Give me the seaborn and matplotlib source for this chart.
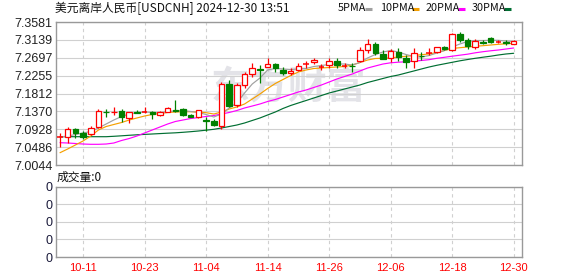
import matplotlib
matplotlib.use("Agg")
import matplotlib.pyplot as plt
import seaborn as sns
import numpy as np
from matplotlib.lines import Line2D

title = "美元离岸人民币[USDCNH] 2024-12-30 13:51"
volume_text = "成交量:0"
x_labels = ["10-11", "10-23", "11-04", "11-14", "11-26", "12-06", "12-18", "12-30"]
x_label_pos = [3, 11, 19, 27, 35, 43, 51, 59]
y_ticks = [7.0044, 7.0486, 7.0928, 7.1370, 7.1812, 7.2255, 7.2697, 7.3139, 7.3581]
y_tick_labels = ["7.0044", "7.0486", "7.0928", "7.1370", "7.1812", "7.2255", "7.2697", "7.3139", "7.3581"]
vol_ticks = [0, 1, 2, 3, 4]
vol_tick_labels = ["0", "0", "0", "0", "0"]
legend_names = ["5PMA", "10PMA", "20PMA", "30PMA"]

open_ = [7.0724, 7.0744, 7.0927, 7.0843, 7.0811, 7.0977, 7.1360, 7.1355, 7.1380, 7.1199,
         7.1355, 7.1343, 7.1355, 7.1281, 7.1348, 7.1404, 7.1422, 7.1273, 7.1224, 7.1145,
         7.1125, 7.1009, 7.2047, 7.1528, 7.2015, 7.2287, 7.2419, 7.2475, 7.2542, 7.2394,
         7.2327, 7.2394, 7.2530, 7.2584, 7.2463, 7.2517, 7.2616, 7.2488, 7.2498, 7.2616,
         7.2888, 7.3029, 7.2782, 7.2683, 7.2832, 7.2698, 7.2624, 7.2752, 7.2802, 7.2846,
         7.2955, 7.2888, 7.3277, 7.3136, 7.2970, 7.3084, 7.3178, 7.3076, 7.3084, 7.3037]
close = [7.0732, 7.0927, 7.0843, 7.0744, 7.0952, 7.1380, 7.1343, 7.1365, 7.1239, 7.1362,
         7.1340, 7.1350, 7.1298, 7.1355, 7.1446, 7.1380, 7.1281, 7.1224, 7.1397, 7.1127,
         7.1026, 7.2047, 7.1511, 7.2015, 7.2287, 7.2436, 7.2404, 7.2542, 7.2443, 7.2312,
         7.2369, 7.2500, 7.2537, 7.2641, 7.2470, 7.2616, 7.2517, 7.2495, 7.2485, 7.2888,
         7.3037, 7.2807, 7.2666, 7.2864, 7.2723, 7.2599, 7.2807, 7.2740, 7.2809, 7.2955,
         7.2913, 7.3277, 7.3136, 7.2995, 7.3111, 7.3071, 7.3094, 7.3081, 7.3071, 7.3118]
high = [7.0828, 7.0977, 7.0952, 7.0892, 7.1009, 7.1422, 7.1422, 7.1471, 7.1422, 7.1365,
        7.1404, 7.1486, 7.1380, 7.1380, 7.1471, 7.1652, 7.1446, 7.1305, 7.1404, 7.1239,
        7.1174, 7.2104, 7.2146, 7.2065, 7.2352, 7.2559, 7.2517, 7.2683, 7.2574, 7.2475,
        7.2436, 7.2559, 7.2616, 7.2683, 7.2535, 7.2698, 7.2698, 7.2559, 7.2559, 7.2970,
        7.3153, 7.3094, 7.2888, 7.2913, 7.2945, 7.2765, 7.2930, 7.2846, 7.2945, 7.2970,
        7.2987, 7.3301, 7.3326, 7.3178, 7.3160, 7.3143, 7.3217, 7.3143, 7.3143, 7.3136]
low = [7.0497, 7.0581, 7.0704, 7.0680, 7.0786, 7.0952, 7.1224, 7.1281, 7.1115, 7.1090,
       7.1323, 7.1323, 7.1174, 7.1256, 7.1345, 7.1362, 7.1256, 7.1220, 7.1216, 7.0892,
       7.1021, 7.0927, 7.1486, 7.1486, 7.1941, 7.2228, 7.2080, 7.2461, 7.2352, 7.2270,
       7.2270, 7.2369, 7.2451, 7.2535, 7.2394, 7.2451, 7.2451, 7.2451, 7.2337, 7.2599,
       7.2807, 7.2765, 7.2658, 7.2584, 7.2616, 7.2451, 7.2451, 7.2641, 7.2765, 7.2807,
       7.2888, 7.2864, 7.3094, 7.2913, 7.2913, 7.3029, 7.3054, 7.3054, 7.3012, 7.3029]

ma5 = [7.0737, 7.0761, 7.0798, 7.0836, 7.0873, 7.0959, 7.1058, 7.1157, 7.1244, 7.1305,
       7.1343, 7.1355, 7.1343, 7.1330, 7.1367, 7.1380, 7.1392, 7.1367, 7.1343, 7.1293,
       7.1231, 7.1305, 7.1454, 7.1578, 7.1825, 7.2047, 7.2196, 7.2394, 7.2431, 7.2419,
       7.2406, 7.2419, 7.2431, 7.2480, 7.2505, 7.2530, 7.2542, 7.2542, 7.2517, 7.2579,
       7.2691, 7.2777, 7.2839, 7.2876, 7.2839, 7.2777, 7.2728, 7.2715, 7.2752, 7.2814,
       7.2876, 7.2963, 7.3037, 7.3099, 7.3123, 7.3123, 7.3128, 7.3128, 7.3111, 7.3099]
ma10 = [7.0348, 7.0440, 7.0539, 7.0638, 7.0761, 7.0910, 7.0996, 7.1046, 7.1095, 7.1157,
        7.1207, 7.1256, 7.1293, 7.1318, 7.1343, 7.1355, 7.1362, 7.1362, 7.1355, 7.1338,
        7.1305, 7.1355, 7.1429, 7.1479, 7.1553, 7.1676, 7.1800, 7.1936, 7.2060, 7.2159,
        7.2258, 7.2344, 7.2394, 7.2431, 7.2443, 7.2456, 7.2468, 7.2480, 7.2517, 7.2579,
        7.2641, 7.2678, 7.2683, 7.2691, 7.2715, 7.2733, 7.2752, 7.2772, 7.2790, 7.2827,
        7.2876, 7.2926, 7.2945, 7.2963, 7.2980, 7.2995, 7.3012, 7.3029, 7.3042, 7.3054]
ma20 = [7.0596, 7.0588, 7.0576, 7.0563, 7.0556, 7.0556, 7.0563, 7.0588, 7.0650, 7.0699,
        7.0761, 7.0836, 7.0910, 7.0984, 7.1058, 7.1120, 7.1157, 7.1194, 7.1219, 7.1244,
        7.1268, 7.1305, 7.1343, 7.1392, 7.1454, 7.1503, 7.1553, 7.1615, 7.1664, 7.1726,
        7.1788, 7.1850, 7.1899, 7.1961, 7.2023, 7.2097, 7.2171, 7.2233, 7.2295, 7.2369,
        7.2443, 7.2493, 7.2542, 7.2572, 7.2587, 7.2597, 7.2614, 7.2629, 7.2649, 7.2683,
        7.2708, 7.2735, 7.2760, 7.2785, 7.2819, 7.2846, 7.2869, 7.2888, 7.2913, 7.2938]
ma30 = [7.0744, 7.0744, 7.0744, 7.0744, 7.0744, 7.0744, 7.0744, 7.0754, 7.0766, 7.0779,
        7.0791, 7.0801, 7.0811, 7.0821, 7.0831, 7.0840, 7.0853, 7.0868, 7.0885, 7.0905,
        7.0927, 7.0959, 7.0996, 7.1033, 7.1083, 7.1145, 7.1207, 7.1281, 7.1355, 7.1442,
        7.1516, 7.1578, 7.1639, 7.1701, 7.1763, 7.1825, 7.1874, 7.1924, 7.1973, 7.2023,
        7.2085, 7.2134, 7.2184, 7.2233, 7.2270, 7.2320, 7.2369, 7.2419, 7.2468, 7.2510,
        7.2547, 7.2584, 7.2621, 7.2653, 7.2683, 7.2710, 7.2735, 7.2765, 7.2790, 7.2807]

# ---------------- style ----------------
sns.set_theme(style="white")
plt.rcParams["font.family"] = ["Liberation Sans", "Noto Sans CJK SC", "DejaVu Sans"]
CJK = ["Noto Sans CJK SC", "DejaVu Sans"]

RED = "#ff0000"
GREEN = "#008000"
MA_COLORS = ["#a0a0a0", "#f5a000", "#ff00ff", "#006e32"]
GRID = "#d0d0d0"
FRAME = "#999999"

W, H = 578, 276
fig = plt.figure(figsize=(W / 100, H / 100), dpi=100)
fig.patch.set_facecolor("white")

L, R = 55.5, 521.7
ax = fig.add_axes([L / W, 1 - 165 / H, (R - L) / W, (165 - 22) / H])
axv = fig.add_axes([L / W, 1 - 257 / H, (R - L) / W, (257 - 186.7) / H])

n = len(close)
idx = np.arange(n)
o = np.array(open_); c = np.array(close); hi = np.array(high); lo = np.array(low)
up = c >= o

# watermark
ax.text(0.50, 0.54, "东方财富", transform=ax.transAxes, ha="center", va="center",
        fontsize=28, fontweight="bold", color="#e3e3e8", family=CJK, zorder=0)

# moving averages via seaborn
for ma, col in zip([ma30, ma20, ma10, ma5], MA_COLORS[::-1]):
    sns.lineplot(x=idx, y=ma, ax=ax, color=col, linewidth=0.85, zorder=2)

# candles
bw = 0.72
cols = np.where(up, RED, GREEN)
ax.vlines(idx, lo, hi, colors=cols, linewidth=0.9, zorder=3)
body_lo = np.minimum(o, c)
body_h = np.abs(c - o)
for i in range(n):
    if body_h[i] < 0.0009:
        ax.hlines(c[i], i - bw / 2, i + bw / 2, colors=cols[i], linewidth=1.1, zorder=4)
    elif up[i]:
        ax.bar(i, body_h[i], bottom=body_lo[i], width=bw, facecolor="white",
               edgecolor=RED, linewidth=0.9, zorder=4)
    else:
        ax.bar(i, body_h[i], bottom=body_lo[i], width=bw, facecolor=GREEN,
               edgecolor=GREEN, linewidth=0.9, zorder=4)

xlim = (-0.585, n - 1 + 1.04)
for a in (ax, axv):
    a.set_xlim(*xlim)
    a.set_xticks(x_label_pos)
    a.grid(True, axis="x", color=GRID, linestyle=(0, (3, 3)), linewidth=0.8)
    a.grid(True, axis="y", color=GRID, linestyle="-", linewidth=0.8)
    a.set_axisbelow(True)
    for s in a.spines.values():
        s.set_color(FRAME)
        s.set_linewidth(1.0)
    a.set_xlabel(""); a.set_ylabel("")

ax.set_ylim(y_ticks[0], y_ticks[-1])
ax.set_yticks(y_ticks)
ax.set_yticklabels(y_tick_labels)
ax.tick_params(axis="y", length=0, pad=2, labelsize=9, labelcolor="#222222")
ax.tick_params(axis="x", length=0, labelbottom=False)

axv.set_ylim(vol_ticks[0], vol_ticks[-1])
axv.set_yticks(vol_ticks)
axv.set_yticklabels(vol_tick_labels)
axv.tick_params(axis="y", length=0, pad=2, labelsize=9, labelcolor="#1a1a3a")
axv.set_xticklabels(x_labels)
axv.tick_params(axis="x", length=0, pad=4, labelsize=8, labelcolor=RED)

# title and volume label
fig.text(55 / W, 1 - 8 / H, title, ha="left", va="center", fontsize=8.5,
         family=CJK, color="#111111")
fig.text(57 / W, 1 - 177.5 / H, volume_text, ha="left", va="center", fontsize=8.5,
         family=CJK, color="#111111")

# legend
text_x = [338, 380, 426, 472]
dash_x = [365, 412, 458, 504]
for name, tx, dx, col in zip(legend_names, text_x, dash_x, MA_COLORS):
    fig.text(tx / W, 1 - 8 / H, name, ha="left", va="center", fontsize=7.8,
             family=CJK, color="#111111")
    fig.add_artist(Line2D([dx / W, (dx + 7) / W], [1 - 8.5 / H, 1 - 8.5 / H],
                          transform=fig.transFigure, color=col, linewidth=2.2,
                          solid_capstyle="butt"))

fig.savefig("out.png", dpi=100, facecolor="white")
